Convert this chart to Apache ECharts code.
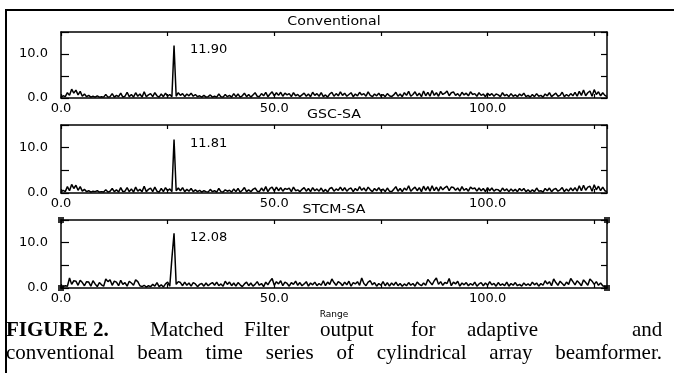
<!DOCTYPE html>
<html>
<head>
<meta charset="utf-8">
<script src="https://cdn.jsdelivr.net/npm/echarts@6/dist/echarts.min.js"></script>
<style>
  html, body { margin: 0; padding: 0; background: #fff; }
  #chart { width: 674px; height: 373px; }
</style>
</head>
<body>
<div id="chart"></div>
<script>
// range axis: samples every half unit from 0 to 128
const rangeStep = 0.5;
const rangeMax = 128;
const ampMax = 15;

const panelTitles = ['Conventional', 'GSC-SA', 'STCM-SA'];
const xTickLabels = [0, 50, 100];
const yTickLabels = [0, 10];
const axisName = 'Range';

// matched filter output (one value per 0.5 range unit)
const conventional = [
  0.2, 0.5, 0.3, 1.2, 0.6,
  2.0, 1.1, 1.8, 0.7, 1.5, 0.4,
  0.9, 0.3, 0.6, 0.2, 0.4, 0.2, 0.5, 0.2, 0.3, 0.2,
  0.8, 0.2, 0.3, 1.0, 0.2, 0.6, 0.3, 1.1, 0.2, 0.4,
  1.3, 0.3, 0.8, 0.2, 1.2, 0.4, 0.9, 0.2, 1.4, 0.3,
  0.7, 1.0, 0.3, 1.2, 0.5, 0.2, 0.9, 0.3, 1.1, 0.4,
  0.8, 0.3, 11.90,
  0.4, 1.2, 0.6, 1.0, 0.3, 0.9, 0.5,
  1.1, 0.4, 0.8, 0.3, 0.5, 0.2, 0.6, 0.2, 0.3, 0.7,
  0.2, 0.4, 0.2, 0.9, 0.3, 0.2, 0.8, 0.3, 0.6, 0.2,
  1.0, 0.3, 0.9, 0.2, 0.5, 1.1, 0.3, 0.8, 0.2, 0.7,
  1.2, 0.4, 0.3, 1.0, 0.5, 1.3, 0.3, 0.9, 1.4, 0.5,
  1.2, 0.6, 1.3, 0.4, 1.1, 0.7, 1.0, 0.3, 1.2, 0.5,
  0.8, 0.3, 0.7, 1.1, 0.4, 0.9, 0.3, 1.3, 0.6, 1.0,
  0.4, 1.2, 0.3, 0.7, 0.2, 0.9, 1.3, 0.4, 1.0, 0.5,
  1.4, 0.6, 1.1, 0.4, 0.8, 1.2, 0.3, 0.9, 0.5, 1.3,
  0.7, 1.0, 0.4, 1.4, 0.6, 0.3, 0.9, 0.5, 1.1, 0.4,
  0.8, 0.3, 1.0, 0.5, 0.3, 0.7, 1.3, 0.4, 0.9, 0.3,
  1.2, 0.6, 1.5, 0.4, 0.8, 1.4, 0.5, 1.1, 0.3, 1.6,
  0.5, 1.3, 0.4, 1.7, 0.6, 1.2, 0.4, 1.5, 0.8, 1.1,
  1.6, 0.5, 1.2, 1.4, 0.6, 1.0, 0.4, 1.3, 0.7, 1.1,
  0.5, 1.4, 0.8, 1.0, 0.4, 1.2, 0.6, 0.9, 0.3, 1.1,
  0.6, 1.0, 0.4, 0.9, 0.7, 0.3, 1.2, 0.5, 0.8, 0.3,
  1.0, 0.4, 0.7, 0.3, 0.9, 0.5, 1.1, 0.3, 0.6, 0.2,
  0.8, 0.3, 1.0, 0.4, 0.6, 0.2, 0.9, 0.5, 1.2, 0.3,
  0.7, 1.1, 0.4, 0.6, 1.3, 0.3, 0.8, 0.4, 1.0, 0.5,
  1.3, 0.4, 1.5, 0.6, 1.8, 0.5, 1.2, 1.6, 0.4, 1.9,
  0.8, 1.4, 0.5, 1.2, 0.6, 0.3
];

const gscSa = [
  0.2, 0.6, 0.3, 1.4, 0.5,
  1.9, 1.0, 1.7, 0.6, 1.4, 0.4,
  0.8, 0.3, 0.5, 0.2, 0.4, 0.3, 0.5, 0.2, 0.3, 0.2,
  0.7, 0.2, 0.4, 1.0, 0.3, 0.7, 0.2, 1.2, 0.3, 0.4,
  1.2, 0.3, 0.9, 0.2, 1.3, 0.4, 0.8, 0.3, 1.5, 0.3,
  0.8, 1.1, 0.3, 1.3, 0.4, 0.2, 1.0, 0.3, 1.2, 0.5,
  0.9, 0.3, 11.81,
  0.5, 1.1, 0.5, 1.2, 0.3, 0.8, 0.4,
  1.0, 0.3, 0.7, 0.3, 0.6, 0.2, 0.5, 0.3, 0.2, 0.8,
  0.3, 0.5, 0.2, 1.0, 0.3, 0.2, 0.7, 0.4, 0.6, 0.2,
  0.9, 0.3, 1.0, 0.2, 0.6, 1.2, 0.3, 0.7, 0.3, 0.8,
  1.1, 0.4, 0.3, 1.1, 0.4, 1.4, 0.3, 1.0, 1.3, 0.4,
  1.3, 0.5, 1.2, 0.4, 1.0, 0.8, 1.1, 0.3, 1.3, 0.5,
  0.7, 0.3, 0.8, 1.2, 0.4, 1.0, 0.3, 1.2, 0.5, 0.9,
  0.4, 1.1, 0.3, 0.8, 0.2, 1.0, 1.2, 0.4, 0.9, 0.6,
  1.3, 0.5, 1.2, 0.4, 0.9, 1.1, 0.3, 1.0, 0.5, 1.4,
  0.6, 1.1, 0.4, 1.3, 0.7, 0.3, 1.0, 0.5, 1.2, 0.4,
  0.9, 0.3, 1.1, 0.4, 0.3, 0.8, 1.4, 0.4, 1.0, 0.3,
  1.1, 0.6, 1.6, 0.4, 0.9, 1.3, 0.5, 1.2, 0.3, 1.5,
  0.6, 1.4, 0.4, 1.6, 0.5, 1.3, 0.4, 1.4, 0.7, 1.2,
  1.5, 0.5, 1.3, 1.2, 0.6, 1.1, 0.4, 1.4, 0.6, 1.0,
  0.4, 1.3, 0.9, 1.1, 0.4, 1.1, 0.5, 1.0, 0.3, 1.2,
  0.5, 1.1, 0.4, 0.8, 0.7, 0.3, 1.1, 0.5, 0.9, 0.3,
  0.9, 0.4, 0.8, 0.3, 1.0, 0.5, 1.0, 0.3, 0.7, 0.2,
  0.7, 0.3, 1.1, 0.4, 0.5, 0.2, 1.0, 0.5, 1.1, 0.3,
  0.8, 1.0, 0.4, 0.7, 1.2, 0.3, 0.9, 0.4, 1.1, 0.5,
  1.2, 0.4, 1.6, 0.5, 1.7, 0.6, 1.3, 1.5, 0.4, 1.8,
  0.7, 1.5, 0.5, 1.3, 0.5, 0.3
];

const stcmSa = [
  0.1, 0.3, 0.5, 0.4, 2.2,
  0.8, 1.6, 1.5, 0.6, 1.7, 1.2,
  0.5, 1.4, 1.3, 0.4, 1.6, 0.9, 0.3, 1.2, 0.7, 0.4,
  2.0, 1.4, 1.8, 0.6, 1.5, 1.3, 0.5, 1.7, 0.8, 1.2,
  0.4, 1.5, 1.1, 0.6, 1.8, 1.4, 0.5, 0.3, 0.6, 0.2,
  0.5, 0.3, 0.8, 0.4, 1.2, 0.3, 0.7, 0.2, 0.9, 1.3,
  0.4, 6.6, 12.08,
  0.8, 1.4, 1.2, 0.5, 1.3, 0.6, 1.1,
  0.4, 1.2, 0.9, 0.3, 0.8, 1.0, 0.4, 1.1, 0.5, 0.9,
  1.2, 0.6, 1.3, 0.5, 0.9, 0.4, 1.5, 0.8, 1.3, 0.5,
  1.1, 0.4, 1.2, 0.7, 0.3, 0.9, 1.3, 0.5, 1.1, 0.4,
  0.8, 1.4, 0.6, 1.0, 0.3, 1.3, 0.7, 1.5, 2.1, 0.6,
  1.4, 0.9, 1.6, 0.5, 1.3, 1.0, 0.4, 1.2, 0.8, 1.5,
  0.6, 1.2, 0.5, 0.9, 1.4, 0.4, 1.1, 0.7, 1.3, 0.5,
  1.0, 0.6, 1.6, 0.5, 1.3, 0.8, 2.0, 1.2, 0.6, 1.4,
  1.1, 0.5, 1.3, 0.7, 1.5, 0.4, 1.2, 0.9, 1.4, 0.6,
  2.2, 1.0, 0.5, 1.3, 1.6, 0.7, 1.2, 0.4, 1.0, 0.6,
  1.4, 0.5, 1.2, 0.4, 1.1, 0.6, 1.3, 0.5, 1.0, 0.4,
  0.9, 0.5, 1.2, 0.6, 1.0, 0.4, 1.3, 0.8, 0.5, 1.1,
  0.6, 1.9, 1.3, 0.7, 1.6, 2.2, 0.8, 1.4, 0.6, 1.2,
  1.0, 2.1, 0.5, 1.3, 0.9, 1.5, 0.4, 1.1, 0.7, 1.2,
  0.5, 1.0, 0.6, 1.3, 0.4, 0.9, 1.2, 0.5, 1.1, 0.6,
  1.4, 0.7, 1.0, 0.4, 1.2, 0.6, 0.9, 0.5, 1.3, 0.4,
  1.0, 0.6, 1.2, 0.5, 0.8, 0.4, 1.1, 0.6, 0.9, 0.5,
  1.3, 0.7, 1.1, 0.4, 1.0, 0.6, 1.6, 0.9, 1.4, 0.5,
  2.0, 1.2, 0.6, 1.5, 1.0, 0.5, 1.3, 0.8, 2.1, 1.4,
  0.7, 1.6, 1.1, 0.5, 1.8, 1.2, 0.6, 2.0, 1.5, 0.8,
  1.4, 0.6, 1.1, 0.5, 0.3, 0.2
];

const captionLine1 = ['FIGURE 2.', 'Matched', 'Filter', 'output', 'for', 'adaptive', 'and'];
const captionLine2 = ['conventional', 'beam', 'time', 'series', 'of', 'cylindrical', 'array', 'beamformer.'];

const panelSeries = [conventional, gscSa, stcmSa];

// layout of the three stacked panels (px)
const plotLeft = 61;
const plotWidth = 546;
const panels = [
  { top: 32, height: 66 },
  { top: 125, height: 68 },
  { top: 220, height: 68 }
];

const chart = echarts.init(document.getElementById('chart'));
const sansFont = '"DejaVu Sans", sans-serif';
const serif = '"Liberation Serif", "Times New Roman", serif';

const grids = [];
const xAxes = [];
const yAxes = [];
const series = [];
const graphics = [];

const axisLine = { onZero: false, lineStyle: { color: '#000', width: 1.5 } };
const tickStyle = { color: '#000', width: 1.2 };

panels.forEach((p, k) => {
    grids.push({ left: plotLeft, width: plotWidth, top: p.top, height: p.height });

    // bottom range axis with labels
    xAxes.push({
        type: 'value', gridIndex: k, position: 'bottom',
        min: 0, max: rangeMax, interval: 25,
        axisLine,
        axisTick: { show: true, inside: true, length: 4, lineStyle: tickStyle },
        splitLine: { show: false },
        axisLabel: {
            color: '#000', fontFamily: sansFont, fontSize: 13, margin: 4,
            showMaxLabel: false,
            formatter: v => xTickLabels.includes(v) ? v.toFixed(1) : ''
        }
    });
    // top frame edge
    xAxes.push({
        type: 'value', gridIndex: k, position: 'top',
        min: 0, max: rangeMax, interval: 25,
        axisLine,
        axisTick: { show: true, inside: true, length: 4, lineStyle: tickStyle },
        splitLine: { show: false },
        axisLabel: { show: false }
    });
    // left amplitude axis
    yAxes.push({
        type: 'value', gridIndex: k, position: 'left',
        min: 0, max: ampMax, interval: 5,
        axisLine,
        axisTick: { show: true, inside: true, length: 8, lineStyle: tickStyle },
        splitLine: { show: false },
        axisLabel: {
            color: '#000', fontFamily: sansFont, fontSize: 13, margin: 13,
            formatter: v => yTickLabels.includes(v) ? v.toFixed(1) : ''
        }
    });
    // right frame edge
    yAxes.push({
        type: 'value', gridIndex: k, position: 'right',
        min: 0, max: ampMax, interval: 5,
        axisLine,
        axisTick: { show: true, inside: true, length: 6, lineStyle: tickStyle },
        splitLine: { show: false },
        axisLabel: { show: false }
    });

    const values = panelSeries[k];
    let peakIdx = 0;
    values.forEach((v, i) => { if (v > values[peakIdx]) peakIdx = i; });

    series.push({
        name: panelTitles[k],
        type: 'line',
        xAxisIndex: 2 * k,
        yAxisIndex: 2 * k,
        data: values.map((v, i) => [i * rangeStep, v]),
        showSymbol: false,
        silent: true,
        lineStyle: { color: '#000', width: 1.5 },
        markPoint: {
            silent: true,
            symbol: 'circle',
            symbolSize: 0,
            data: [{ coord: [peakIdx * rangeStep, values[peakIdx]], value: values[peakIdx] }],
            label: {
                show: true,
                position: 'right',
                distance: 0,
                offset: [16, 4],
                color: '#000',
                fontFamily: sansFont,
                fontSize: 13,
                formatter: pt => pt.value.toFixed(2)
            }
        }
    });

    graphics.push({
        type: 'text',
        x: plotLeft + plotWidth / 2,
        y: p.top - 10,
        scaleX: 1.18,
        style: {
            text: panelTitles[k], align: 'center', verticalAlign: 'middle',
            font: '12px ' + sansFont, fill: '#000'
        }
    });
});

// small square markers on the STCM-SA frame corners
series.push({
    type: 'scatter',
    xAxisIndex: 4,
    yAxisIndex: 4,
    symbol: 'rect',
    symbolSize: 6,
    clip: false,
    silent: true,
    itemStyle: { color: '#000' },
    z: 5,
    data: [[0, 0], [rangeMax, 0], [0, ampMax], [rangeMax, ampMax]]
});

graphics.push({
    type: 'text', x: plotLeft + plotWidth / 2, y: 315,
    style: { text: axisName, align: 'center', verticalAlign: 'middle', font: '9px ' + sansFont, fill: '#000' }
});

// outer frame (scan shows only the top and left edges)
graphics.push({
    type: 'polyline',
    shape: { points: [[6, 373], [6, 10], [674, 10]] },
    style: { stroke: '#000', lineWidth: 2, fill: null }
});

// caption: serif; first line words sit where the scan has them, second line justified
const measure = document.createElement('canvas').getContext('2d');
function textWidth(str, font) { measure.font = font; return measure.measureText(str).width; }
const capSize = 21;
const capFont = capSize + 'px ' + serif;
const capBold = 'bold ' + capSize + 'px ' + serif;
const line1Starts = [6, 150, 244, 320, 411, 467, 632];

function placeWord(w, font, x, bottom) {
    graphics.push({
        type: 'text', x, y: bottom,
        style: { text: w, align: 'left', verticalAlign: 'bottom', font, fill: '#000' }
    });
}

captionLine1.forEach((w, i) => placeWord(w, i === 0 ? capBold : capFont, line1Starts[i], 341));

const widths2 = captionLine2.map(w => textWidth(w, capFont));
const gap2 = (662 - 6 - widths2.reduce((a, b) => a + b, 0)) / (captionLine2.length - 1);
let cursor = 6;
captionLine2.forEach((w, i) => {
    placeWord(w, capFont, cursor, 364);
    cursor += widths2[i] + gap2;
});

chart.setOption({
    animation: false,
    backgroundColor: '#fff',
    grid: grids,
    xAxis: xAxes,
    yAxis: yAxes,
    series,
    graphic: graphics
});
</script>
</body>
</html>
